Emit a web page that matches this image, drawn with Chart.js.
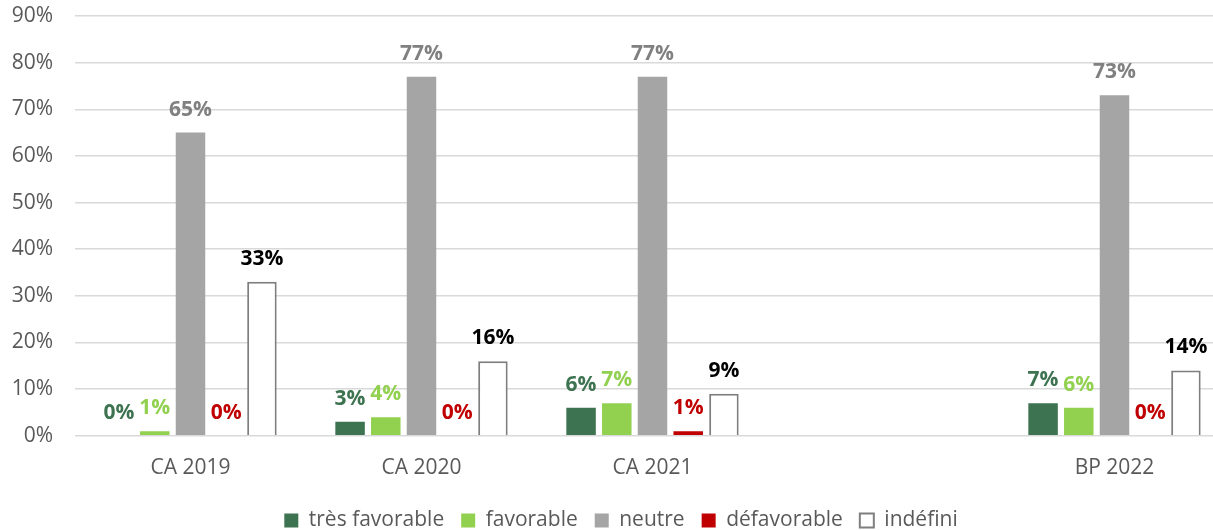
<!DOCTYPE html>
<html lang="fr">
<head>
<meta charset="utf-8">
<title>Avis</title>
<script src="https://cdn.jsdelivr.net/npm/chart.js@4/dist/chart.umd.min.js"></script>
<style>
    html, body {
        margin: 0;
        padding: 0;
        background: #fff;
        overflow: hidden;
    }
    #wrap {
        width: 1262px;
        height: 530px;
    }
</style>
</head>
<body>
<div id="wrap"><canvas id="avisChart"></canvas></div>
<script>
// Données (en %)
const categories = ['CA 2019', 'CA 2020', 'CA 2021', '', 'BP 2022'];
const tresFavorable = [0, 3, 6, null, 7];
const favorable = [1, 4, 7, null, 6];
const neutre = [65, 77, 77, null, 73];
const defavorable = [0, 0, 1, null, 0];
const indefini = [33, 16, 9, null, 14];
const yTicks = [0, 10, 20, 30, 40, 50, 60, 70, 80, 90];

const FONT = '"Open Sans", "Liberation Sans", sans-serif';

// Étiquettes de valeur au-dessus des barres
const valueLabels = {
    id: 'valueLabels',
    afterDatasetsDraw(chart) {
        const ctx = chart.ctx;
        ctx.save();
        ctx.font = `bold 21px ${FONT}`;
        ctx.textAlign = 'center';
        ctx.textBaseline = 'alphabetic';
        chart.data.datasets.forEach((ds, i) => {
            const meta = chart.getDatasetMeta(i);
            meta.data.forEach((bar, j) => {
                const v = ds.data[j];
                if (v === null || v === undefined) return;
                ctx.fillStyle = ds.labelColor;
                ctx.fillText(v + '%', bar.x, bar.y - 17);
            });
        });
        ctx.restore();
    }
};

class AvisChart {
    constructor() {
        this.chart = null;
        this.render();
    }

    makeDataset(label, data, color, labelColor) {
        return {
            label: label,
            data: data,
            backgroundColor: color,
            borderWidth: 0,
            labelColor: labelColor,
            categoryPercentage: 0.773,
            barPercentage: 0.826
        };
    }

    render() {
        const ctx = document.getElementById('avisChart').getContext('2d');
        const indef = this.makeDataset('indéfini', indefini, '#FFFFFF', '#000000');
        indef.borderColor = '#7F7F7F';
        indef.borderWidth = 2;

        this.chart = new Chart(ctx, {
            type: 'bar',
            data: {
                labels: categories,
                datasets: [
                    this.makeDataset('très favorable', tresFavorable, '#3D7350', '#3D7350'),
                    this.makeDataset('favorable', favorable, '#92D050', '#92D050'),
                    this.makeDataset('neutre', neutre, '#A5A5A5', '#808080'),
                    this.makeDataset('défavorable', defavorable, '#C00000', '#C00000'),
                    indef
                ]
            },
            options: {
                responsive: true,
                maintainAspectRatio: false,
                animation: false,
                layout: {
                    padding: { left: 12, right: 32, top: 0, bottom: -11 }
                },
                scales: {
                    x: {
                        grid: { display: false },
                        border: { display: false },
                        ticks: {
                            color: '#595959',
                            padding: 12,
                            font: { family: FONT, size: 21 }
                        }
                    },
                    y: {
                        min: 0,
                        max: 90,
                        afterBuildTicks(axis) {
                            axis.ticks = yTicks.map(v => ({ value: v }));
                        },
                        afterFit(axis) {
                            axis.width = 63;
                            axis.paddingTop = 16;
                            axis.paddingBottom = 0;
                        },
                        grid: {
                            color: '#D9D9D9',
                            lineWidth: 1.5,
                            drawTicks: false
                        },
                        border: { display: false },
                        ticks: {
                            color: '#595959',
                            padding: 22,
                            font: { family: FONT, size: 21 },
                            callback: function(value) {
                                return value + '%';
                            }
                        }
                    }
                },
                plugins: {
                    legend: {
                        position: 'bottom',
                        labels: {
                            color: '#595959',
                            boxWidth: 14,
                            boxHeight: 14,
                            padding: 17,
                            font: { family: FONT, size: 21 }
                        }
                    },
                    tooltip: { enabled: false }
                }
            },
            plugins: [valueLabels]
        });
    }
}

document.addEventListener('DOMContentLoaded', () => {
    new AvisChart();
});
</script>
</body>
</html>
